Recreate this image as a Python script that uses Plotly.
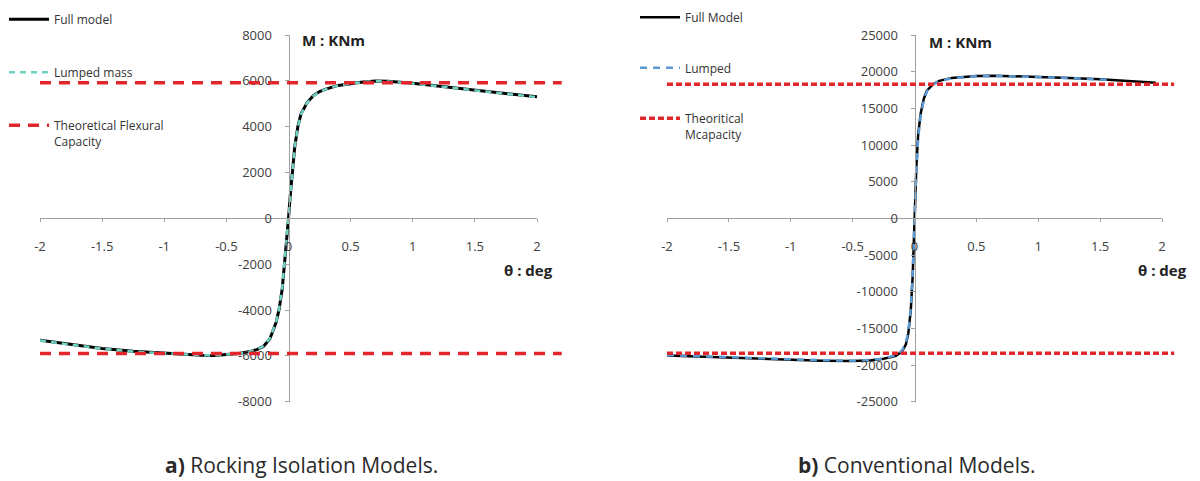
import plotly.graph_objects as go

# ---------------- data ----------------
# a) Rocking isolation models
A_THETA = [-2, -1.75, -1.5, -1.25, -1, -0.8, -0.7, -0.6, -0.5, -0.4, -0.3, -0.25, -0.2, -0.15,
           -0.1, -0.075, -0.05, -0.03, -0.015, 0, 0.015, 0.03, 0.05, 0.075, 0.1, 0.15, 0.2, 0.25,
           0.3, 0.4, 0.5, 0.6, 0.7, 0.8, 1.0, 1.25, 1.5, 1.75, 2.0]
A_FULL = [-5320, -5510, -5680, -5800, -5880, -5950, -5970, -5980, -5950, -5900, -5800, -5720,
          -5580, -5250, -4550, -3950, -3050, -1950, -1000, 0, 1050, 2000, 3100, 4000, 4550, 5050,
          5350, 5530, 5640, 5800, 5890, 5950, 5990, 5980, 5890, 5740, 5580, 5440, 5300]
A_LUMPED = [-5330, -5520, -5690, -5810, -5890, -5950, -5975, -5980, -5955, -5900, -5800, -5715,
            -5570, -5240, -4530, -3920, -3000, -1900, -980, 0, 1020, 1980, 3080, 3980, 4540, 5040,
            5340, 5520, 5640, 5800, 5890, 5950, 5985, 5975, 5885, 5735, 5575, 5435, 5290]
A_CAP_THETA = [-2, 2.2]
A_CAP_POS = [5920, 5920]
A_CAP_NEG = [-5900, -5900]

# b) Conventional models
B_THETA = [-2, -1.75, -1.5, -1.25, -1, -0.75, -0.5, -0.35, -0.25, -0.15, -0.1, -0.07, -0.05,
           -0.03, -0.015, 0, 0.015, 0.03, 0.05, 0.075, 0.1, 0.15, 0.2, 0.3, 0.4, 0.5, 0.65, 0.8,
           1.0, 1.25, 1.5, 1.75, 1.95]
B_FULL = [-18700, -18850, -19000, -19150, -19300, -19400, -19450, -19350, -19150, -18750,
          -18150, -17200, -15700, -12500, -8000, 0, 7000, 11500, 14300, 16300, 17400, 18300,
          18750, 19150, 19330, 19420, 19450, 19400, 19300, 19150, 18950, 18700, 18500]
B_LUMPED_THETA = [-2, -1.75, -1.5, -1.25, -1, -0.75, -0.5, -0.35, -0.25, -0.15, -0.1, -0.07,
                  -0.05, -0.03, -0.015, 0, 0.015, 0.03, 0.05, 0.075, 0.1, 0.15, 0.2, 0.3, 0.4,
                  0.5, 0.65, 0.8, 1.0, 1.25, 1.5, 1.6]
B_LUMPED = [-18650, -18800, -18950, -19100, -19250, -19350, -19400, -19300, -19100, -18650,
            -18000, -17000, -15400, -12200, -7600, 0, 6600, 11000, 14000, 16100, 17300, 18250,
            18700, 19100, 19300, 19400, 19430, 19380, 19280, 19130, 18930, 18850]
B_CAP_THETA = [-2, 2.1]
B_CAP_POS = [18300, 18300]
B_CAP_NEG = [-18400, -18400]

X_TICKS = [-2, -1.5, -1, -0.5, 0, 0.5, 1, 1.5, 2]
X_LABELS = ["-2", "-1.5", "-1", "-0.5", "0", "0.5", "1", "1.5", "2"]
A_Y_TICKS = [-8000, -6000, -4000, -2000, 0, 2000, 4000, 6000, 8000]
A_Y_LABELS = ["-8000", "-6000", "-4000", "-2000", "0", "2000", "4000", "6000", "8000"]
B_Y_TICKS = [-25000, -20000, -15000, -10000, -5000, 0, 5000, 10000, 15000, 20000, 25000]
B_Y_LABELS = ["-25000", "-20000", "-15000", "-10000", "-5000", "0", "5000", "10000", "15000",
              "20000", "25000"]

# ---------------- layout geometry ----------------
W, H = 1200, 481
FONT = "Open Sans, Noto Sans, sans-serif"
AXC = "#a0a0a0"
TXT = "#404040"

def px_x(p):
    return p / W

def px_y(p):
    return 1 - p / H

Y_DOM = [px_y(401.7), px_y(35)]
Y_ZERO = (Y_DOM[0] + Y_DOM[1]) / 2
A_DOM = [px_x(40), px_x(537)]
B_DOM = [px_x(667), px_x(1162)]
A_DOM_EXT = [A_DOM[0], A_DOM[0] + (A_DOM[1] - A_DOM[0]) * 4.2 / 4]
B_DOM_EXT = [B_DOM[0], B_DOM[0] + (B_DOM[1] - B_DOM[0]) * 4.1 / 4]

fig = go.Figure()

RED = "#e3262b"
A_RED_DASH = "11px,8px"
B_RED_DASH = "6px,3px"

# --- chart a ---
fig.add_trace(go.Scatter(x=A_THETA, y=A_FULL, mode="lines", name="Full model",
                         line=dict(color="black", width=3), xaxis="x", yaxis="y",
                         legend="legend", legendgroup="a1"))
fig.add_trace(go.Scatter(x=A_THETA, y=A_LUMPED, mode="lines", name="Lumped mass",
                         line=dict(color="#6fd3c4", width=2.5, dash="6px,5px"), xaxis="x", yaxis="y",
                         legend="legend", legendgroup="a2"))
fig.add_trace(go.Scatter(x=A_CAP_THETA, y=A_CAP_POS, mode="lines",
                         name="Theoretical Flexural<br>Capacity",
                         line=dict(color=RED, width=3.5, dash=A_RED_DASH), xaxis="x3", yaxis="y",
                         legend="legend", legendgroup="a3"))
fig.add_trace(go.Scatter(x=A_CAP_THETA, y=A_CAP_NEG, mode="lines", showlegend=False,
                         line=dict(color=RED, width=3.5, dash=A_RED_DASH), xaxis="x3", yaxis="y",
                         legend="legend", legendgroup="a3"))

# --- chart b ---
fig.add_trace(go.Scatter(x=B_THETA, y=B_FULL, mode="lines", name="Full Model",
                         line=dict(color="black", width=2.5), xaxis="x2", yaxis="y2",
                         legend="legend2", legendgroup="b1"))
fig.add_trace(go.Scatter(x=B_LUMPED_THETA, y=B_LUMPED, mode="lines", name="Lumped",
                         line=dict(color="#5b9bd5", width=2.5, dash="7px,6px"), xaxis="x2", yaxis="y2",
                         legend="legend2", legendgroup="b2"))
fig.add_trace(go.Scatter(x=B_CAP_THETA, y=B_CAP_POS, mode="lines",
                         name="Theoritical<br>Mcapacity",
                         line=dict(color=RED, width=3.5, dash=B_RED_DASH), xaxis="x4", yaxis="y2",
                         legend="legend2", legendgroup="b3"))
fig.add_trace(go.Scatter(x=B_CAP_THETA, y=B_CAP_NEG, mode="lines", showlegend=False,
                         line=dict(color=RED, width=3.5, dash=B_RED_DASH), xaxis="x4", yaxis="y2",
                         legend="legend2", legendgroup="b3"))

tickfont = dict(family=FONT, size=13, color=TXT)

def xaxis(dom):
    return dict(domain=dom, range=[-2, 2], anchor="free", position=Y_ZERO,
                tickvals=X_TICKS, ticktext=X_LABELS, tickfont=tickfont,
                showline=True, linecolor=AXC, linewidth=1, ticks="outside", ticklen=3,
                tickcolor=AXC, ticklabelstandoff=13, showgrid=False, zeroline=False,
                fixedrange=True)

def yaxis(dom_x, rng, tv, tt):
    return dict(domain=Y_DOM, range=rng, anchor="free",
                position=(dom_x[0] + dom_x[1]) / 2, side="left",
                tickvals=tv, ticktext=tt, tickfont=tickfont,
                showline=True, linecolor=AXC, linewidth=1, ticks="outside", ticklen=4,
                tickcolor=AXC, ticklabelstandoff=10, showgrid=False, zeroline=False,
                fixedrange=True)

legend_common = dict(bgcolor="rgba(0,0,0,0)", font=dict(family=FONT, size=12, color="#333333"),
                     valign="top", xanchor="left", yanchor="top",
                     itemwidth=40, traceorder="grouped")

fig.update_layout(
    width=W, height=H, margin=dict(l=0, r=0, t=0, b=0, autoexpand=False),
    paper_bgcolor="white", plot_bgcolor="rgba(0,0,0,0)",
    xaxis=xaxis(A_DOM),
    yaxis=yaxis(A_DOM, [-8000, 8000], A_Y_TICKS, A_Y_LABELS),
    xaxis2=xaxis(B_DOM),
    yaxis2=yaxis(B_DOM, [-25000, 25000], B_Y_TICKS, B_Y_LABELS),
    xaxis3=dict(domain=A_DOM_EXT, range=[-2, 2.2], visible=False, anchor="y", fixedrange=True),
    xaxis4=dict(domain=B_DOM_EXT, range=[-2, 2.1], visible=False, anchor="y2", fixedrange=True),
    legend=dict(x=px_x(4), y=px_y(5), tracegroupgap=34, **legend_common),
    legend2=dict(x=px_x(635), y=px_y(3), tracegroupgap=31.5, **legend_common),
    showlegend=True,
)

ann_font = dict(family=FONT, size=15, color="#222222")
cap_font = dict(family=FONT, size=21, color="#2a2a2a")
annotations = [
    dict(text="<b>M : KNm</b>", x=px_x(300), y=px_y(40), xanchor="left", yanchor="middle"),
    dict(text="<b>θ : deg</b>", x=px_x(555), y=px_y(270), xanchor="right", yanchor="middle"),
    dict(text="<b>M : KNm</b>", x=px_x(927), y=px_y(42), xanchor="left", yanchor="middle"),
    dict(text="<b>θ : deg</b>", x=px_x(1189), y=px_y(270), xanchor="right", yanchor="middle"),
    dict(text="<b>a)</b> Rocking Isolation Models.", x=px_x(163), y=px_y(465),
         xanchor="left", yanchor="middle", font=cap_font),
    dict(text="<b>b)</b> Conventional Models.", x=px_x(796), y=px_y(465),
         xanchor="left", yanchor="middle", font=cap_font),
]
for a in annotations:
    a.setdefault("font", ann_font)
    a.update(xref="paper", yref="paper", showarrow=False)
fig.update_layout(annotations=annotations)

fig.write_html(
    "out.html",
    post_script="document.body.style.margin='0';document.documentElement.style.overflow='hidden';",
)
